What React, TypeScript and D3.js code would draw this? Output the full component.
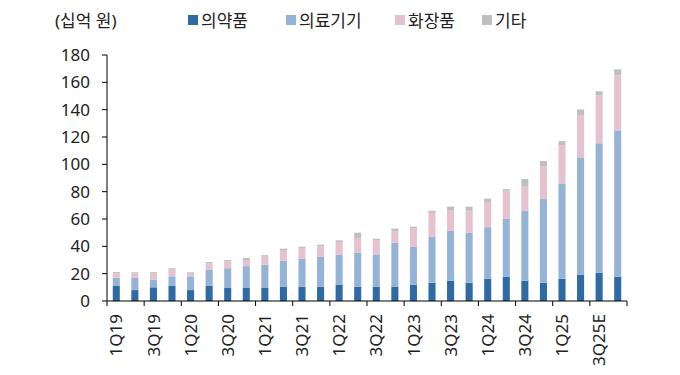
import React from "react";
import * as d3 from "d3";

const quarters = [
  "1Q19", "2Q19", "3Q19", "4Q19", "1Q20", "2Q20", "3Q20", "4Q20",
  "1Q21", "2Q21", "3Q21", "4Q21", "1Q22", "2Q22", "3Q22", "4Q22",
  "1Q23", "2Q23", "3Q23", "4Q23", "1Q24", "2Q24", "3Q24", "4Q24",
  "1Q25", "2Q25", "3Q25E", "4Q25E",
];

const pharma = [11, 8, 10, 11, 8, 11, 9.5, 9.5, 9.5, 10.5, 10.5, 10.5, 12, 10.5, 10.5, 10.5, 12, 13.4, 14.9, 13.4, 16.3, 17.8, 14.9, 13.4, 16.3, 19.3, 20.7, 17.8];
const device = [6, 9, 5.5, 7, 10, 12, 14.5, 16, 17, 19, 20.5, 22, 22, 25, 23.5, 32, 27.7, 33.6, 36.4, 36.6, 37.7, 42.4, 50.9, 61.2, 69.7, 85.8, 94.7, 106.6];
const cosmetic = [3.2, 3.2, 4.8, 5, 2, 4.5, 5, 4.5, 6, 7.8, 7.5, 7.5, 9, 10.5, 10.5, 8.5, 13.2, 17.5, 14.8, 16, 18, 20.5, 17.8, 23.7, 28.1, 31, 35.1, 40.7];
const other = [1, 0.8, 0.8, 1, 1, 1, 1, 1.5, 1, 1, 1.2, 1.2, 1.4, 4, 1.1, 2, 1.5, 1.5, 3, 3, 2.9, 1.2, 5.6, 4.1, 2.9, 4.1, 2.9, 4.4];

const seriesNames = ["의약품", "의료기기", "화장품", "기타"];
const colors = ["#2e6ba5", "#95b3d7", "#e6c1cf", "#bfbfbf"];
const yTicks = [0, 20, 40, 60, 80, 100, 120, 140, 160, 180];

const font = "'Noto Sans', 'Noto Sans CJK KR', sans-serif";

export default function App() {
  const W = 680;
  const H = 375;
  const left = 107, right = 627, top = 55, bottom = 301;

  const rows = quarters.map((q, i) => ({
    q,
    의약품: pharma[i],
    의료기기: device[i],
    화장품: cosmetic[i],
    기타: other[i],
  }));
  const stack = d3.stack<any>().keys(seriesNames)(rows);

  const x = d3.scaleBand().domain(quarters).range([left, right]).paddingInner(0.62).paddingOuter(0.31);
  const y = d3.scaleLinear().domain([0, 180]).range([bottom, top]);

  const legendX = [188, 286, 395, 482];

  return (
    <svg width={W} height={H} style={{ position: "absolute", left: 0, top: 0 }} fontFamily={font}>
      <rect width={W} height={H} fill="#fff" />
      <text x={55} y={27} fontSize={17} fill="#222">(십억 원)</text>
      {seriesNames.map((s, i) => (
        <g key={s}>
          <rect x={legendX[i]} y={15} width={10} height={10} fill={colors[i]} />
          <text x={legendX[i] + 13} y={27} fontSize={17} fill="#222">{s}</text>
        </g>
      ))}
      {stack.map((layer, li) => (
        <g key={layer.key} fill={colors[li]}>
          {layer.map((d, i) => (
            <rect
              key={i}
              x={x(quarters[i])}
              y={y(d[1])}
              width={x.bandwidth()}
              height={y(d[0]) - y(d[1])}
            />
          ))}
        </g>
      ))}
      {/* y axis */}
      <line x1={left} x2={left} y1={top} y2={bottom} stroke="#000" />
      {yTicks.map((t) => (
        <g key={t}>
          <line x1={left - 5} x2={left} y1={y(t)} y2={y(t)} stroke="#000" />
          <text x={left - 17} y={y(t)} dy="0.36em" textAnchor="end" fontSize={17} fill="#222">{t}</text>
        </g>
      ))}
      {/* x axis */}
      <line x1={left} x2={right} y1={bottom} y2={bottom} stroke="#000" />
      {d3.range(0, quarters.length + 1, 2).map((i) => (
        <line key={i} x1={left + x.step() * i} x2={left + x.step() * i} y1={bottom} y2={bottom + 5} stroke="#000" />
      ))}
      {quarters.map((q, i) =>
        i % 2 === 0 ? (
          <text
            key={q}
            transform={`translate(${(x(q) as number) + x.bandwidth() / 2},${bottom + 13}) rotate(-90)`}
            textAnchor="end"
            dy="0.36em"
            fontSize={17}
            fill="#222"
          >
            {q}
          </text>
        ) : null
      )}
    </svg>
  );
}
